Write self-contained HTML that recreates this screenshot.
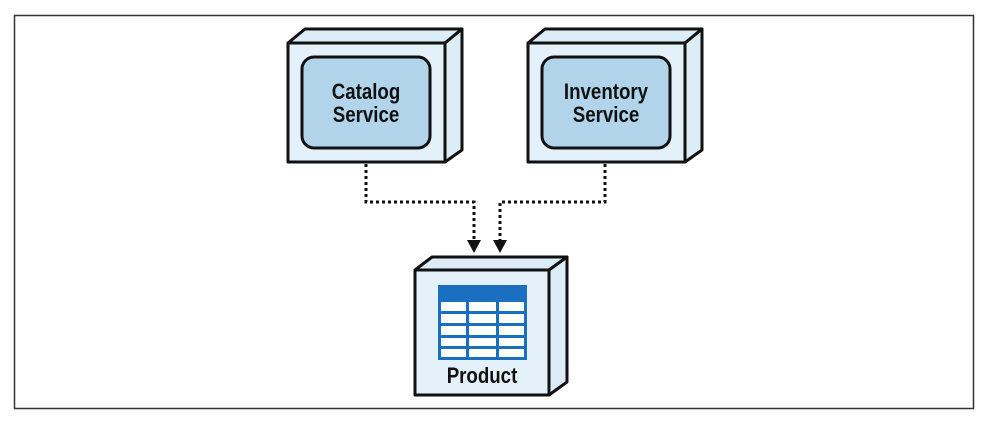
<!DOCTYPE html>
<html><head><style>
body{margin:0;background:#fff;}
svg{display:block}
text{font-family:"Liberation Sans",sans-serif;font-weight:bold;fill:#111;}
</style></head><body>
<svg width="988" height="422" viewBox="0 0 988 422" xmlns="http://www.w3.org/2000/svg">
<rect x="14.5" y="15.5" width="959" height="393" fill="#fff" stroke="#333" stroke-width="1.5"/>
<!-- Catalog -->
<g stroke="#111" stroke-width="3" stroke-linejoin="round">
<polygon points="288,43 305,29 462,29 445,43" fill="#dcedf7"/>
<polygon points="445,43 462,29 462,150 445,162" fill="#dcedf7"/>
<rect x="288" y="43" width="157" height="119" fill="#e4f1fa"/>
<rect x="302" y="57" width="128" height="91" rx="12" fill="#b1d4ea"/>
</g>
<text x="366" y="99" font-size="22" text-anchor="middle" transform="translate(366 0) scale(0.85 1) translate(-366 0)">Catalog</text>
<text x="366" y="122" font-size="22" text-anchor="middle" transform="translate(366 0) scale(0.85 1) translate(-366 0)">Service</text>
<!-- Inventory -->
<g stroke="#111" stroke-width="3" stroke-linejoin="round">
<polygon points="528,43 545,29 702,29 685,43" fill="#dcedf7"/>
<polygon points="685,43 702,29 702,150 685,162" fill="#dcedf7"/>
<rect x="528" y="43" width="157" height="119" fill="#e4f1fa"/>
<rect x="542" y="57" width="128" height="91" rx="12" fill="#b1d4ea"/>
</g>
<text x="606" y="99" font-size="22" text-anchor="middle" transform="translate(606 0) scale(0.85 1) translate(-606 0)">Inventory</text>
<text x="606" y="122" font-size="22" text-anchor="middle" transform="translate(606 0) scale(0.85 1) translate(-606 0)">Service</text>
<!-- connectors -->
<g stroke="#111" stroke-width="3" fill="none" stroke-dasharray="3 3">
<polyline points="366,164 366,202 474,202 474,242"/>
<polyline points="605,164 605,202 500,202 500,242"/>
</g>
<polygon points="467,240 481,240 474,253" fill="#111"/>
<polygon points="493,240 507,240 500,253" fill="#111"/>
<!-- Product -->
<g stroke="#111" stroke-width="3" stroke-linejoin="round">
<polygon points="415,270 432,257 567,257 549,270" fill="#dcedf7"/>
<polygon points="549,270 567,257 567,382 549,395" fill="#dcedf7"/>
<rect x="415" y="270" width="134" height="125" fill="#e4f1fa"/>
</g>
<rect x="438" y="285" width="89" height="75" fill="#1a6fc0"/>
<g fill="#fff">
<rect x="441" y="302" width="25" height="9"/><rect x="469" y="302" width="27" height="9"/><rect x="499" y="302" width="25" height="9"/>
<rect x="441" y="314" width="25" height="9"/><rect x="469" y="314" width="27" height="9"/><rect x="499" y="314" width="25" height="9"/>
<rect x="441" y="326" width="25" height="9"/><rect x="469" y="326" width="27" height="9"/><rect x="499" y="326" width="25" height="9"/>
<rect x="441" y="338" width="25" height="8"/><rect x="469" y="338" width="27" height="8"/><rect x="499" y="338" width="25" height="8"/>
<rect x="441" y="349" width="25" height="8"/><rect x="469" y="349" width="27" height="8"/><rect x="499" y="349" width="25" height="8"/>
</g>
<text x="482" y="383" font-size="22" text-anchor="middle" transform="translate(482 0) scale(0.85 1) translate(-482 0)">Product</text>
</svg>
</body></html>
